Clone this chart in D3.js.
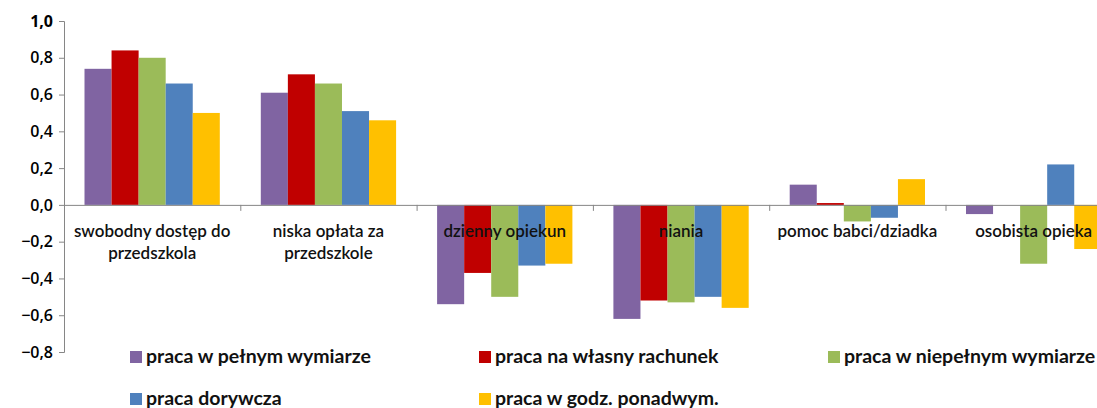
<!DOCTYPE html>
<html>
<head>
    <meta charset="utf-8">
    <script src="https://cdn.jsdelivr.net/npm/d3@7/dist/d3.min.js"></script>
    <style>
        body { margin: 0; background: #fff; }
        svg { display: block; }
        .tick text { fill: #000; }
    </style>
</head>
<body>
<script>
    var categories = ["swobodny dostęp do|przedszkola", "niska opłata za|przedszkole", "dzienny opiekun",
        "niania", "pomoc babci/dziadka", "osobista opieka"];
    var seriesNames = ["praca w pełnym wymiarze", "praca na własny rachunek", "praca w niepełnym wymiarze",
        "praca dorywcza", "praca w godz. ponadwym."];
    var pelny = [0.74, 0.61, -0.54, -0.62, 0.11, -0.05];
    var wlasny = [0.84, 0.71, -0.37, -0.52, 0.01, 0];
    var niepelny = [0.80, 0.66, -0.50, -0.53, -0.09, -0.32];
    var dorywcza = [0.66, 0.51, -0.33, -0.50, -0.07, 0.22];
    var ponadwym = [0.50, 0.46, -0.32, -0.56, 0.14, -0.24];
    var yTicks = [-0.8, -0.6, -0.4, -0.2, 0, 0.2, 0.4, 0.6, 0.8, 1.0];
    var colors = ["#8064A2", "#C00000", "#9BBB59", "#4F81BD", "#FFC000"];

    var values = [pelny, wlasny, niepelny, dorywcza, ponadwym];
    var W = 1097, H = 408;
    var left = 64, catW = 176.3;

    var svg = d3.select("body").append("svg").attr("width", W).attr("height", H);

    var x = d3.scaleBand().domain(categories).range([left, left + catW * categories.length]);
    var xs = d3.scaleBand().domain(seriesNames).range([20.5, catW - 20.5]);
    var y = d3.scaleLinear().domain([-0.8, 1.0]).range([352, 21]);

    // bars
    var rows = [];
    categories.forEach(function (c, i) {
        seriesNames.forEach(function (s, j) {
            rows.push({cat: c, s: s, v: values[j][i], col: colors[j]});
        });
    });
    svg.append("g").selectAll("rect").data(rows).enter().append("rect")
        .attr("x", function (d) { return x(d.cat) + xs(d.s); })
        .attr("width", xs.bandwidth())
        .attr("y", function (d) { return y(Math.max(0, d.v)); })
        .attr("height", function (d) { return Math.abs(y(d.v) - y(0)); })
        .attr("fill", function (d) { return d.col; });

    // y axis
    var yAxis = svg.append("g").attr("transform", "translate(" + left + ",0)")
        .call(d3.axisLeft(y).tickValues(yTicks).tickSize(5).tickPadding(6)
            .tickFormat(function (d) { return d3.format(".1f")(d).replace(".", ","); }));
    yAxis.select(".domain").attr("stroke", "#868686");
    yAxis.selectAll(".tick line").attr("stroke", "#868686");
    yAxis.selectAll(".tick text")
        .style("font-family", "'Open Sans', sans-serif")
        .style("font-size", "16px")
        .style("font-weight", function (d) { return d === 1 ? "bold" : "600"; });

    // x axis line at zero with category separators
    var xb = d3.scaleLinear().domain([0, categories.length]).range([left, left + catW * categories.length]);
    var xAxis = svg.append("g").attr("transform", "translate(0," + y(0) + ")")
        .call(d3.axisBottom(xb).ticks(categories.length).tickSize(6).tickFormat(""));
    xAxis.select(".domain").attr("stroke", "#868686");
    xAxis.selectAll(".tick line").attr("stroke", "#868686");

    // category labels
    var lab = svg.append("g").selectAll("text").data(categories).enter().append("text")
        .attr("x", function (d) { return x(d) + catW / 2; })
        .attr("y", 237)
        .attr("text-anchor", "middle")
        .style("font-family", "Lato, sans-serif")
        .style("font-size", "17px")
        .style("font-weight", "600")
        .attr("fill", "#111");
    lab.each(function (d) {
        var parts = d.split("|");
        var t = d3.select(this);
        parts.forEach(function (p, i) {
            t.append("tspan").attr("x", x(d) + catW / 2).attr("dy", i === 0 ? 0 : 22).text(p);
        });
    });

    // legend
    var legX = [130, 479, 828], legY = [357, 399];
    var leg = svg.append("g").selectAll("g").data(seriesNames).enter().append("g")
        .attr("transform", function (d, i) {
            return "translate(" + legX[i % 3] + "," + legY[Math.floor(i / 3)] + ")";
        });
    leg.append("rect").attr("x", 0).attr("y", -6).attr("width", 12).attr("height", 12)
        .attr("fill", function (d, i) { return colors[i]; });
    leg.append("text").attr("x", 16).attr("y", 6)
        .style("font-family", "Lato, sans-serif")
        .style("font-size", "19.5px")
        .style("font-weight", "bold")
        .attr("fill", "#111")
        .text(function (d) { return d; });
</script>
</body>
</html>
